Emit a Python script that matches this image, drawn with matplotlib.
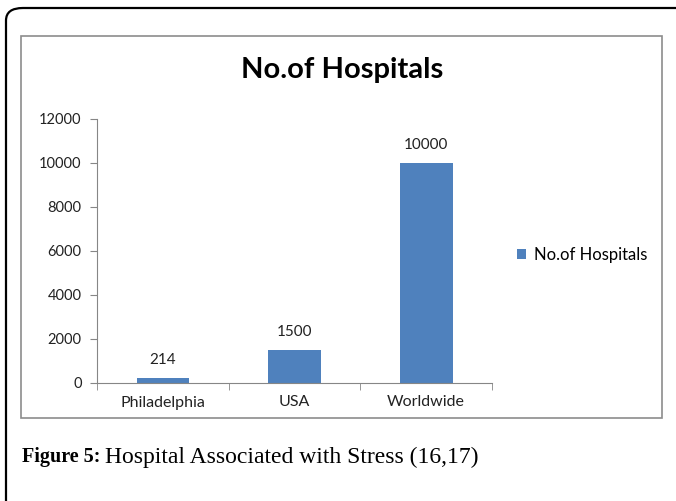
import matplotlib.pyplot as plt
from matplotlib.patches import FancyBboxPatch, Rectangle

# data
categories = ['Philadelphia', 'USA', 'Worldwide']
hospitals = [214, 1500, 10000]
series_name = 'No.of Hospitals'
y_ticks = [0, 2000, 4000, 6000, 8000, 10000, 12000]

W, H = 676, 501
fig = plt.figure(figsize=(W / 100, H / 100), dpi=100)

def fx(px):
    return px / W

def fy(py):
    return 1 - py / H

chart_font = ['Lato', 'DejaVu Sans']
bar_color = '#4F81BD'
axis_gray = '#868686'

# outer rounded frame (runs off the right and bottom edges)
outer = FancyBboxPatch((fx(6), fy(560)), fx(720), 552 / H,
                       boxstyle='round,pad=0,rounding_size=0.025',
                       transform=fig.transFigure, fill=False,
                       edgecolor='black', linewidth=1.6, clip_on=False)
fig.patches.append(outer)

# inner chart frame
inner = Rectangle((fx(21), fy(418)), fx(641), (418 - 36) / H,
                  transform=fig.transFigure, fill=False,
                  edgecolor='#8c8c8c', linewidth=1.2)
fig.patches.append(inner)

ax = fig.add_axes([fx(97), fy(383), fx(395), (383 - 119) / H])
x = range(len(categories))
bars = ax.bar(x, hospitals, width=0.4, color=bar_color, label=series_name)
ax.set_xlim(-0.5, 2.5)
ax.set_ylim(0, 12000)
ax.set_yticks(y_ticks)
ax.set_xticks(list(x))
ax.set_xticklabels(categories, fontsize=11.5, family=chart_font, color='#222222')
ax.set_yticklabels([str(t) for t in y_ticks], fontsize=10.5, family=chart_font,
                   color='#222222')
ax.set_xticks([-0.5, 0.5, 1.5, 2.5], minor=True)
ax.tick_params(axis='x', which='major', length=0, pad=9)
ax.tick_params(axis='x', which='minor', length=5, color=axis_gray, direction='out')
ax.tick_params(axis='y', length=5, color=axis_gray, pad=6)
for s in ['top', 'right']:
    ax.spines[s].set_visible(False)
for s in ['left', 'bottom']:
    ax.spines[s].set_color(axis_gray)

for b, v in zip(bars, hospitals):
    ax.text(b.get_x() + b.get_width() / 2, v + 500, str(v), ha='center',
            va='bottom', fontsize=11, family=chart_font, color='#222222')

fig.text(fx(342), fy(70), 'No.of Hospitals', ha='center', va='center',
         fontsize=21, fontweight='bold', family=chart_font)

fig.legend(handles=[bars], labels=[series_name], loc='center left',
           bbox_to_anchor=(fx(502), fy(255)), frameon=False, handlelength=0.55,
           handleheight=0.55, handletextpad=0.45,
           prop={'family': chart_font, 'size': 12})

fig.text(fx(22), fy(457), 'Figure 5:', ha='left', va='center', fontsize=14.5,
         fontweight='bold', family='Liberation Serif')
fig.text(fx(105), fy(457), 'Hospital Associated with Stress (16,17)', ha='left',
         va='center', fontsize=17, family='Liberation Serif')

fig.savefig('out.png', dpi=100)
